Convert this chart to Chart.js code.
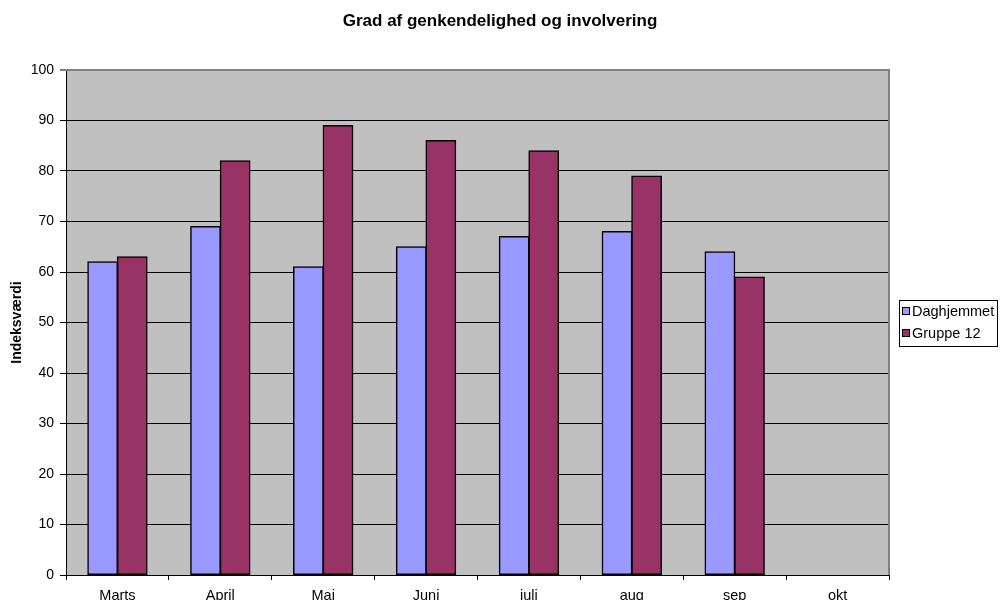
<!DOCTYPE html>
<html>
<head>
<meta charset="utf-8">
<script src="https://cdn.jsdelivr.net/npm/chart.js@4"></script>
<style>
  html, body { margin: 0; padding: 0; background: #ffffff; }
  #wrap { width: 1000px; height: 600px; }
</style>
</head>
<body>
<div id="wrap"><canvas id="c" width="1000" height="600"></canvas></div>
<script>
const chartTitle = "Grad af genkendelighed og involvering";
const yAxisTitle = "Indeksværdi";
const categories = ["Marts", "April", "Maj", "Juni", "juli", "aug", "sep", "okt"];
const seriesNames = ["Daghjemmet", "Gruppe 12"];
const daghjemmet = [62, 69, 61, 65, 67, 68, 64, null];
const gruppe12 = [63, 82, 89, 86, 84, 79, 59, null];
const seriesColors = ["#9999FF", "#993366"];
const yMin = 0, yMax = 100, yStep = 10;

const FONT = '"Liberation Sans", Arial, Helvetica, sans-serif';

const decor = {
  id: 'decor',
  beforeDraw(chart) {
    const { ctx, chartArea: a } = chart;
    ctx.save();
    ctx.fillStyle = '#C0C0C0';
    ctx.fillRect(a.left, a.top, a.right - a.left, a.bottom - a.top);
    ctx.restore();
  },
  beforeDatasetsDraw(chart) {
    const { ctx, chartArea: a } = chart;
    ctx.save();
    ctx.strokeStyle = '#808080';
    ctx.lineWidth = 2;
    ctx.beginPath();
    ctx.moveTo(a.left, a.top);
    ctx.lineTo(a.right, a.top);
    ctx.lineTo(a.right, a.bottom);
    ctx.stroke();
    ctx.restore();
  },
  afterDraw(chart) {
    const { ctx } = chart;
    ctx.save();
    ctx.fillStyle = '#000';
    ctx.font = 'bold 17px ' + FONT;
    ctx.textAlign = 'center';
    ctx.textBaseline = 'middle';
    ctx.fillText(chartTitle, 500, 21);
    ctx.strokeStyle = '#000';
    ctx.lineWidth = 1;
    ctx.strokeRect(899.5, 300.5, 98, 46);
    ctx.font = '14.5px ' + FONT;
    ctx.textAlign = 'left';
    ctx.textBaseline = 'middle';
    const ys = [311, 333];
    seriesNames.forEach((n, i) => {
      ctx.fillStyle = seriesColors[i];
      ctx.fillRect(902, ys[i] - 4, 8, 8);
      ctx.strokeRect(902.5, ys[i] - 3.5, 7, 7);
      ctx.fillStyle = '#000';
      ctx.fillText(n, 912, ys[i] + 1);
    });
    ctx.restore();
  }
};

new Chart(document.getElementById('c'), {
  type: 'bar',
  data: {
    labels: categories,
    datasets: [
      { label: seriesNames[0], data: daghjemmet, backgroundColor: seriesColors[0], borderColor: '#000', borderWidth: 1.5, borderSkipped: false, inflateAmount: 0.6 },
      { label: seriesNames[1], data: gruppe12, backgroundColor: seriesColors[1], borderColor: '#000', borderWidth: 1.5, borderSkipped: false, inflateAmount: 0.6 }
    ]
  },
  options: {
    responsive: false,
    animation: false,
    devicePixelRatio: 1,
    layout: { padding: { top: 70, right: 111, bottom: 0, left: 0 } },
    datasets: { bar: { barPercentage: 1, categoryPercentage: 0.575 } },
    plugins: { legend: { display: false }, title: { display: false }, tooltip: { enabled: false } },
    scales: {
      x: {
        type: 'category',
        offset: true,
        afterFit(s) { s.height = 25; },
        grid: { offset: true, drawOnChartArea: false, drawTicks: true, tickLength: 5, color: '#000' },
        border: { display: true, color: '#000', width: 1 },
        ticks: { color: '#000', font: { family: FONT, size: 14.5 }, padding: 7, maxRotation: 0, autoSkip: false }
      },
      y: {
        min: yMin, max: yMax,
        afterFit(s) { s.width = 66; },
        grid: {
          color: (c) => (c.tick && c.tick.value === yMax) ? '#808080' : '#000',
          lineWidth: (c) => (c.tick && c.tick.value === yMax) ? 2 : 1,
          drawTicks: true, tickLength: 6
        },
        border: { display: true, color: '#000', width: 1 },
        ticks: { stepSize: yStep, color: '#000', font: { family: FONT, size: 14 }, padding: 6 },
        title: { display: true, text: yAxisTitle, color: '#000', font: { family: FONT, size: 14, weight: 'bold' }, padding: { top: 9, bottom: 0 } }
      }
    }
  },
  plugins: [decor]
});
</script>
</body>
</html>
